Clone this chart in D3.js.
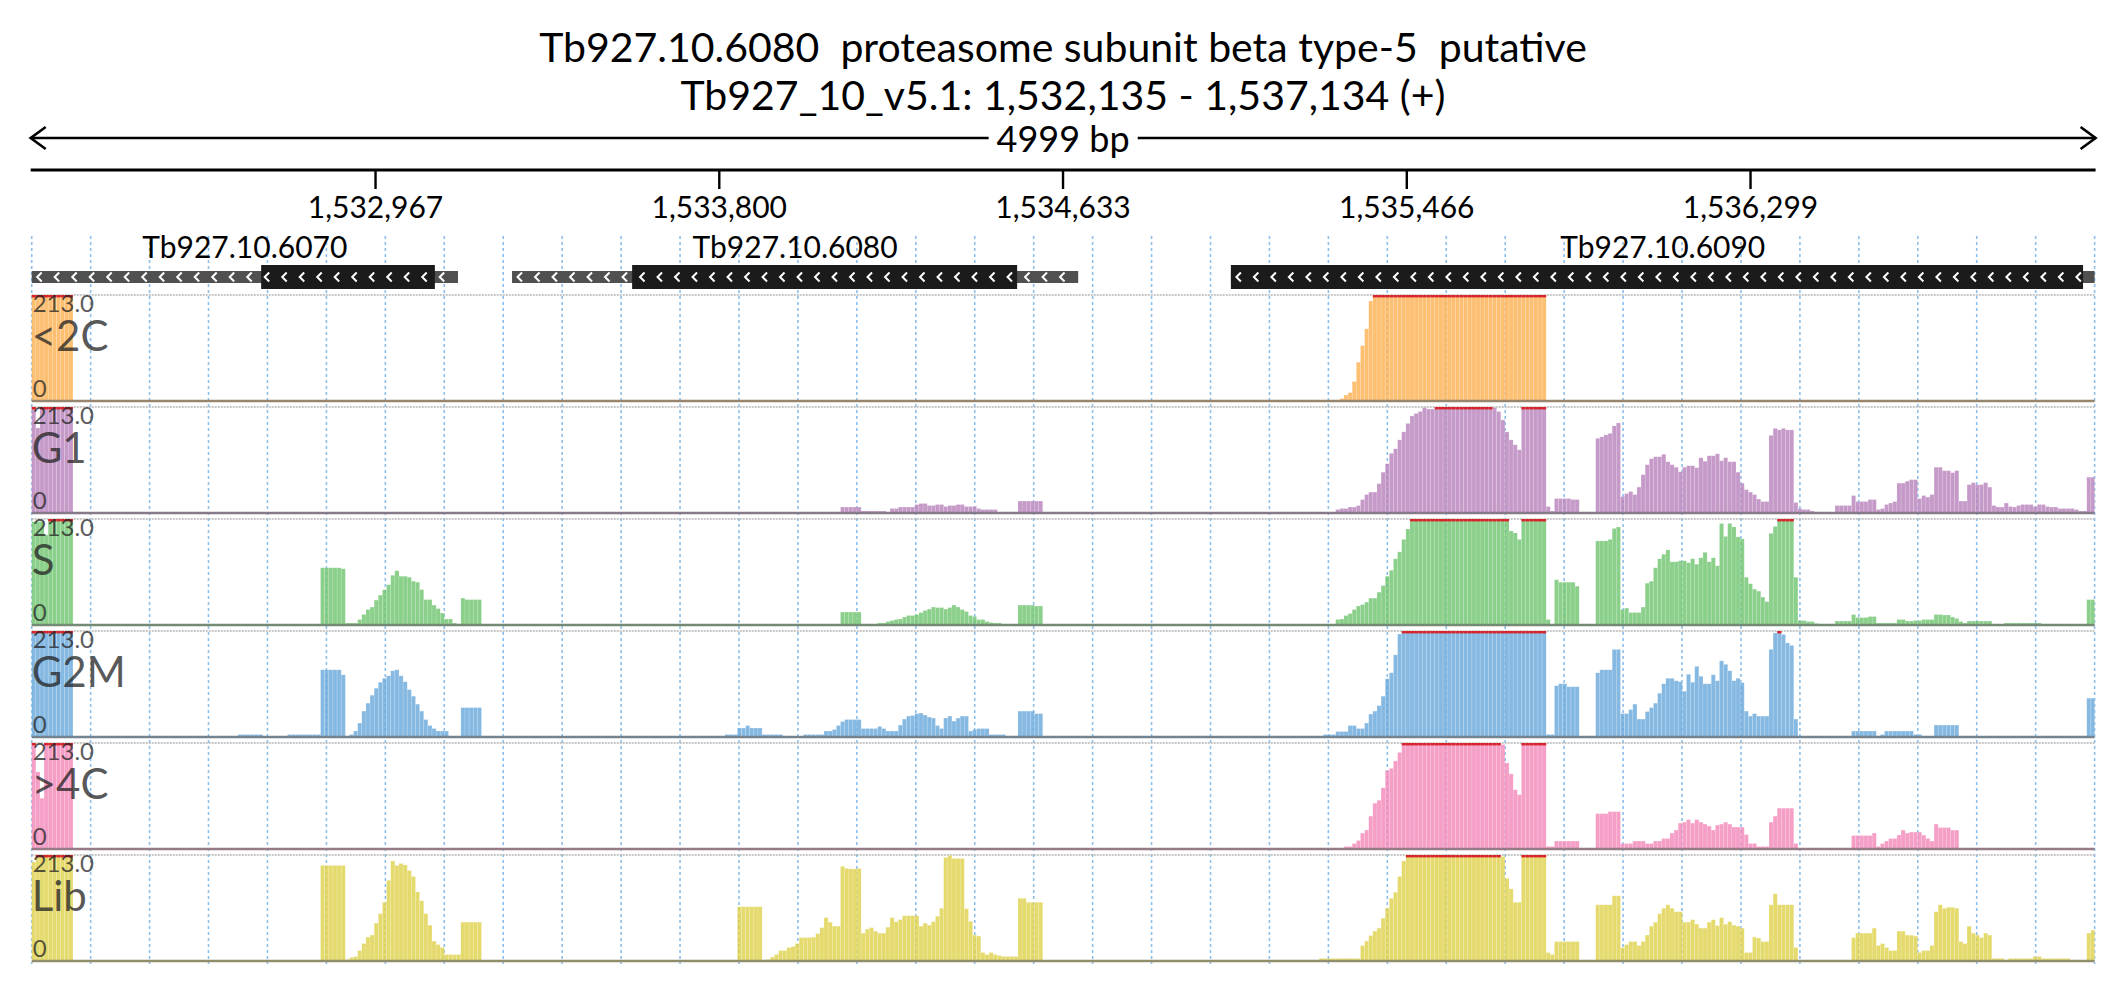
<!DOCTYPE html>
<html>
<head>
<meta charset="utf-8">
<script src="https://cdn.jsdelivr.net/npm/d3@7"></script>
<style>
  body { margin: 0; background: #fff; }
  text { font-family: Lato, "Open Sans", sans-serif; }
</style>
</head>
<body>
<div class="chart"></div>
<script>
// region shown
const START = 1532135, END = 1537134, BIN = 10, YMAX = 213;

const titleLines = ['Tb927.10.6080  proteasome subunit beta type-5  putative',
                    'Tb927_10_v5.1: 1,532,135 - 1,537,134 (+)'];
const tickValues = [1532967, 1533800, 1534633, 1535466, 1536299];

// genes: name, gene start/end, cds start/end
const geneNames = ['Tb927.10.6070', 'Tb927.10.6080', 'Tb927.10.6090'];
const geneStart = [1532100, 1533299, 1535041];
const geneEnd   = [1533168, 1534671, 1537200];
const cdsStart  = [1532691, 1533590, 1535041];
const cdsEnd    = [1533112, 1534523, 1537106];

const trackNames  = ['<2C', 'G1', 'S', 'G2M', '>4C', 'Lib'];
const trackColors = ['#fcaf4f', '#b781ba', '#6dc36d', '#68a8db', '#f286b8', '#dfd148'];

// coverage, [startBin, endBin, value], 10 bp bins from START
const lt2c = [[0,10,260],
  [317,318,5],[318,319,12],[319,320,17],[320,321,39],[321,322,78],[322,323,111],[323,324,145],[324,325,201],[325,367,260]];

const g1 = [[0,1,260],[1,2,171],[2,10,260],
  [196,201,12],[201,207,4],[208,210,9],[210,214,12],[214,215,17],[215,217,19],[217,219,15],[219,221,17],[221,222,13],[222,224,15],[224,226,17],[226,229,13],[229,230,9],[230,234,7],[239,245,24],
  [316,317,7],[317,319,9],[319,321,12],[321,322,15],[322,323,27],[323,324,37],[324,326,42],[326,327,59],[327,328,82],[328,329,99],[329,330,120],[330,331,129],[331,332,147],[332,333,163],[333,334,180],[334,335,195],[335,336,200],[336,337,204],[337,338,212],[338,340,209],[340,354,260],[354,355,212],[355,356,204],[356,357,187],[357,358,163],[358,359,147],[359,360,137],[360,361,127],[361,367,260],[367,368,13],[368,369,4],[369,373,29],[373,375,27],
  [379,380,150],[380,381,153],[381,382,157],[382,383,160],[383,384,175],[384,385,181],[385,386,33],[386,387,39],[387,388,43],[388,389,37],[389,390,52],[390,391,77],[391,392,97],[392,393,109],[393,395,113],[395,396,118],[396,397,103],[397,398,97],[398,399,92],[399,400,83],[400,401,92],[401,403,95],[403,404,91],[404,405,111],[405,406,104],[406,408,115],[408,409,119],[409,410,105],[410,411,111],[411,413,103],[413,414,82],[414,415,60],[415,416,47],[416,417,42],[417,418,37],[418,419,28],[419,421,23],[421,422,156],[422,423,170],[423,424,167],[424,425,170],[425,427,167],[427,428,21],[428,429,9],[429,431,7],[431,432,4],
  [437,441,15],[441,442,35],[442,445,23],[445,447,27],[447,448,7],[448,449,9],[449,450,17],[450,451,20],[451,452,23],[452,454,60],[454,455,64],[455,457,67],[457,458,29],[458,459,35],[459,460,32],[460,461,37],[461,463,92],[463,465,85],[465,466,81],[466,467,85],[467,469,24],[469,470,57],[470,471,61],[471,473,57],[473,474,61],[474,475,52],[475,476,15],[476,478,12],[478,479,20],[479,480,13],[480,481,12],[481,482,15],[482,485,17],[485,486,13],[486,488,17],[488,489,13],[489,491,12],[491,495,9],[495,496,7],[496,498,4],[498,500,72]];

const sPhase = [[0,3,208],[3,4,181],[4,10,260],
  [70,75,115],[75,76,113],[76,79,4],[79,80,11],[80,81,21],[81,82,31],[82,83,36],[83,84,50],[84,85,60],[85,86,71],[86,87,81],[87,88,100],[88,89,109],[89,91,98],[91,92,96],[92,93,88],[93,94,86],[94,95,71],[95,97,51],[97,98,40],[98,99,33],[99,100,24],[100,102,12],[102,103,4],[104,105,54],[105,109,51],
  [196,201,26],[205,207,4],[207,208,7],[208,209,9],[209,210,11],[210,211,12],[211,212,16],[212,214,19],[214,215,21],[215,216,25],[216,217,29],[217,218,32],[218,219,36],[219,221,35],[221,222,32],[222,223,35],[223,224,40],[224,225,36],[225,226,31],[226,227,27],[227,228,19],[228,229,17],[229,231,11],[231,232,7],[232,233,5],[233,235,4],[239,243,40],[243,245,38],
  [316,317,11],[317,318,12],[318,319,19],[319,320,23],[320,321,31],[321,322,38],[322,323,41],[323,324,46],[324,326,54],[326,327,66],[327,328,79],[328,329,98],[329,330,110],[330,331,133],[331,332,147],[332,333,172],[333,334,193],[334,358,260],[358,359,189],[359,360,185],[360,361,172],[361,367,260],[367,368,11],[368,369,2],[369,370,91],[370,374,86],[374,375,78],
  [379,382,169],[382,383,172],[383,384,194],[384,385,197],[385,386,31],[386,387,34],[387,390,25],[390,391,36],[391,392,84],[392,393,88],[393,394,115],[394,395,133],[395,396,142],[396,397,151],[397,399,127],[399,401,129],[401,402,125],[402,403,133],[403,404,122],[404,405,135],[405,406,146],[406,407,127],[407,408,135],[408,409,119],[409,410,204],[410,411,178],[411,412,204],[412,413,197],[413,414,177],[414,415,173],[415,416,96],[416,417,83],[417,418,72],[418,419,68],[419,420,56],[420,421,47],[421,422,184],[422,423,198],[423,427,260],[427,428,96],[428,430,9],[430,432,7],[432,433,3],
  [437,441,8],[441,442,21],[442,445,15],[445,447,17],[447,452,4],[452,454,11],[454,456,8],[456,458,9],[458,461,11],[461,463,21],[463,465,20],[465,466,16],[466,467,13],[467,468,7],[468,469,4],[469,475,8],[478,487,4],[498,500,51]];

const g2m = [[0,10,260],
  [50,56,5],[62,70,5],[70,75,135],[75,76,125],[77,78,5],[78,79,12],[79,80,28],[80,81,52],[81,82,68],[82,83,84],[83,84,98],[84,85,110],[85,86,118],[86,87,123],[87,88,133],[88,89,135],[89,90,123],[90,91,111],[91,92,95],[92,93,82],[93,94,66],[94,95,52],[95,96,35],[96,97,23],[97,98,17],[98,101,12],[104,109,59],
  [168,171,5],[171,173,18],[173,174,23],[174,177,18],[177,182,5],[187,192,5],[192,194,12],[194,195,15],[195,196,23],[196,197,31],[197,201,35],[201,205,17],[205,206,21],[206,207,17],[207,210,12],[210,211,24],[211,212,36],[212,213,42],[213,214,43],[214,215,47],[215,216,48],[216,217,44],[217,218,40],[218,219,38],[219,220,23],[220,221,17],[221,222,38],[222,223,42],[223,224,32],[224,225,38],[225,227,42],[227,228,12],[228,229,15],[229,232,17],[232,236,5],[239,243,52],[243,245,47],
  [313,316,5],[316,319,11],[319,321,23],[321,323,17],[323,324,28],[324,325,46],[325,326,52],[326,327,63],[327,328,82],[328,329,117],[329,330,129],[330,331,165],[331,332,207],[332,367,260],[367,369,5],[369,370,103],[370,372,107],[372,375,101],
  [379,380,129],[380,383,135],[383,385,176],[385,387,47],[387,388,55],[388,389,66],[389,391,36],[391,392,51],[392,393,59],[393,394,68],[394,395,88],[395,396,107],[396,398,118],[398,399,113],[399,400,111],[400,401,92],[401,402,126],[402,403,110],[403,404,142],[404,405,122],[405,407,107],[407,408,125],[408,409,113],[409,410,153],[410,411,146],[411,412,133],[412,413,113],[413,414,118],[414,415,109],[415,416,52],[416,417,42],[417,418,47],[418,421,42],[421,422,176],[422,423,209],[423,424,260],[424,425,206],[425,426,189],[426,427,184],[427,428,36],
  [441,447,12],[448,449,5],[449,456,12],[456,458,5],[461,467,24],[498,500,78]];

const gt4c = [[0,1,260],[1,2,155],[2,3,102],[3,10,260],
  [318,320,5],[320,321,11],[321,322,17],[322,323,32],[323,324,38],[324,325,66],[325,326,92],[326,327,98],[327,328,123],[328,329,158],[329,330,162],[330,331,177],[331,332,194],[332,356,260],[356,357,210],[357,358,173],[358,359,151],[359,360,119],[360,361,109],[361,367,260],[367,369,5],[369,375,16],
  [379,382,71],[382,385,75],[385,388,11],[388,391,16],[391,393,11],[393,395,16],[395,397,21],[397,398,32],[398,399,38],[399,400,52],[400,401,54],[401,402,59],[402,403,52],[403,404,59],[404,405,54],[405,406,50],[406,407,46],[407,408,38],[408,409,48],[409,410,50],[410,411,54],[411,412,50],[412,415,44],[415,416,29],[416,418,11],[418,421,5],[421,422,54],[422,423,66],[423,427,82],[427,428,11],
  [441,446,27],[446,447,32],[447,448,5],[448,449,11],[449,450,16],[450,452,21],[452,453,28],[453,454,38],[454,455,32],[455,458,34],[458,459,28],[459,460,21],[460,461,16],[461,462,50],[462,465,43],[465,467,38]];

const lib = [[0,1,199],[1,10,260],
  [70,76,192],[76,77,3],[77,78,7],[78,79,9],[79,80,21],[80,81,35],[81,82,48],[82,83,52],[83,84,76],[84,85,95],[85,86,118],[86,87,162],[87,88,201],[88,89,192],[89,90,196],[90,91,193],[91,92,182],[92,93,170],[93,94,139],[94,95,121],[95,96,95],[96,97,72],[97,98,40],[98,99,33],[99,100,27],[100,104,13],[104,109,78],
  [171,177,109],[178,179,3],[179,180,8],[180,181,13],[181,183,21],[183,184,27],[184,185,29],[185,186,35],[186,189,47],[189,190,48],[190,191,55],[191,192,67],[192,193,87],[193,194,78],[194,196,70],[196,197,190],[197,198,186],[198,200,185],[200,201,186],[201,202,56],[202,203,64],[203,204,67],[204,205,60],[205,207,56],[207,208,68],[208,209,87],[209,210,79],[210,211,83],[211,215,91],[215,216,70],[216,217,76],[217,218,72],[218,219,79],[219,220,90],[220,221,106],[221,222,208],[222,223,212],[223,226,206],[226,227,105],[227,228,80],[228,229,52],[229,230,50],[230,231,17],[231,232,13],[232,233,17],[233,234,13],[234,235,11],[235,239,9],[239,241,126],[241,245,118],
  [312,322,5],[322,323,31],[323,324,40],[324,325,51],[325,326,60],[326,327,66],[327,328,86],[328,329,106],[329,330,126],[330,331,138],[331,332,170],[332,333,201],[333,356,260],[356,357,210],[357,358,166],[358,359,145],[359,361,118],[361,367,260],[367,368,17],[368,369,13],[369,375,39],
  [379,383,113],[383,385,131],[385,386,27],[386,387,33],[387,389,39],[389,390,31],[390,391,39],[391,392,52],[392,393,70],[393,394,78],[394,395,95],[395,396,106],[396,397,113],[397,398,106],[398,400,99],[400,402,78],[402,403,83],[403,404,74],[404,406,66],[406,407,78],[407,408,83],[408,409,71],[409,410,87],[410,411,74],[411,412,79],[412,413,72],[413,414,70],[414,415,66],[415,417,17],[417,418,48],[418,419,46],[419,421,39],[421,422,113],[422,423,135],[423,427,113],[427,428,27],
  [441,442,47],[442,446,56],[446,447,66],[447,448,31],[448,449,35],[449,450,27],[450,452,21],[452,454,60],[454,456,52],[456,457,50],[457,458,17],[458,460,21],[460,461,31],[461,462,99],[462,463,113],[463,464,106],[464,466,108],[466,467,106],[467,468,39],[468,469,35],[469,470,70],[470,471,56],[471,472,52],[472,473,47],[473,474,56],[474,475,52],[475,478,5],[479,485,5],[485,487,9],[487,494,5],[498,499,56],[499,500,62]];

const trackData = [lt2c, g1, sPhase, g2m, gt4c, lib];

let width = 2126, height = 1000;
let left = 31.7, right = 2094.6;
let trackTop = 295, trackH = 106, trackPitch = 112;

let svg = d3.select('.chart').append('svg')
  .attr('width', width)
  .attr('height', height);

let x = d3.scaleLinear().domain([START, END]).range([left, right]);

// title
svg.selectAll('.title')
  .data(titleLines)
  .join('text')
  .attr('class', 'title')
  .attr('x', width / 2)
  .attr('y', (d, i) => 62 + i * 48)
  .attr('text-anchor', 'middle')
  .style('font-size', '41px')
  .style('white-space', 'pre')
  .text(d => d);

// span arrow
let arrowY = 138;
const ruler = svg.append('g').attr('stroke', '#000').attr('stroke-width', 2.6).attr('fill', 'none');
ruler.append('line').attr('x1', left - 1).attr('x2', right + 1).attr('y1', arrowY).attr('y2', arrowY);
ruler.append('path').attr('d', `M${left + 14},${arrowY - 11} L${left - 1},${arrowY} L${left + 14},${arrowY + 11}`);
ruler.append('path').attr('d', `M${right - 14},${arrowY - 11} L${right + 1},${arrowY} L${right - 14},${arrowY + 11}`);
let spanBg = svg.append('rect');
let spanText = svg.append('text')
  .attr('x', (left + right) / 2)
  .attr('y', 152)
  .attr('text-anchor', 'middle')
  .style('font-size', '36px')
  .text((END - START) + ' bp');
let bb = spanText.node().getBBox();
spanBg.attr('x', bb.x - 8).attr('y', arrowY - 4)
  .attr('width', bb.width + 16).attr('height', 8)
  .attr('fill', '#fff');

// position axis
let axisY = 170;
let axis = svg.append('g')
  .attr('transform', `translate(0,${axisY})`)
  .call(d3.axisBottom(x)
    .tickValues(tickValues)
    .tickSize(19)
    .tickSizeOuter(0)
    .tickPadding(8)
    .tickFormat(d3.format(',')));
axis.select('.domain').attr('stroke-width', 3.2).attr('d', `M${left - 1},0H${right + 1}`);
axis.selectAll('.tick line').attr('stroke-width', 2.4);
axis.selectAll('.tick text').style('font-size', '30px').attr('font-family', 'Lato').attr('fill', '#000');

// grid
let gridX = d3.range(36).map(i => left + i * (right - left) / 35);
svg.append('g')
  .selectAll('line')
  .data(gridX)
  .join('line')
  .attr('x1', d => d).attr('x2', d => d)
  .attr('y1', 236).attr('y2', trackTop + 5 * trackPitch + trackH + 3)
  .attr('stroke', '#8ebfea')
  .attr('stroke-width', 1.6)
  .attr('stroke-dasharray', '3,3');

// genes
let geneY = 277;
let genes = svg.append('g');
geneNames.forEach((name, i) => {
  let x0 = Math.max(x(geneStart[i]), left), x1 = Math.min(x(geneEnd[i]), right);
  genes.append('rect')
    .attr('x', x0).attr('y', geneY - 6)
    .attr('width', x1 - x0).attr('height', 12)
    .attr('fill', '#505050');
  let c0 = Math.max(x(cdsStart[i]), left), c1 = Math.min(x(cdsEnd[i]), right);
  genes.append('rect')
    .attr('x', c0).attr('y', geneY - 12)
    .attr('width', c1 - c0).attr('height', 24)
    .attr('fill', '#1b1b1b');
  let marks = d3.range(x0 + 7, x1 - 4, 17.5);
  genes.append('g')
    .selectAll('path')
    .data(marks)
    .join('path')
    .attr('d', d => `M${d + 3},${geneY - 4.5} L${d - 1.5},${geneY} L${d + 3},${geneY + 4.5}`)
    .attr('fill', 'none')
    .attr('stroke', '#fff')
    .attr('stroke-width', 2);
  genes.append('text')
    .attr('x', (x0 + x1) / 2)
    .attr('y', 258)
    .attr('text-anchor', 'middle')
    .style('font-size', '30px')
    .text(name);
});

// coverage tracks
trackData.forEach((segs, t) => {
  let top = trackTop + t * trackPitch, base = top + trackH;
  let y = d3.scaleLinear().domain([0, YMAX]).range([base, top]);
  let col = trackColors[t];
  let g = svg.append('g');

  g.append('line')
    .attr('x1', left).attr('x2', right)
    .attr('y1', top).attr('y2', top)
    .attr('stroke', '#b5b5b5')
    .attr('stroke-width', 1.4)
    .attr('stroke-dasharray', '2,1');

  let bins = [];
  segs.forEach(s => {
    for (let b = s[0]; b < s[1]; b++) bins.push({ b: b, v: s[2] });
  });

  g.selectAll('.bar')
    .data(bins)
    .join('rect')
    .attr('class', 'bar')
    .attr('x', d => x(START + d.b * BIN))
    .attr('width', d => Math.min(x(START + (d.b + 1) * BIN), right) - x(START + d.b * BIN))
    .attr('y', d => y(Math.min(d.v, YMAX)))
    .attr('height', d => base - y(Math.min(d.v, YMAX)))
    .attr('fill', col)
    .attr('fill-opacity', 0.8)
    .attr('stroke', '#fff')
    .attr('stroke-opacity', 0.25)
    .attr('stroke-width', 0.6);

  g.selectAll('.clip')
    .data(bins.filter(d => d.v > YMAX))
    .join('rect')
    .attr('class', 'clip')
    .attr('x', d => x(START + d.b * BIN))
    .attr('width', d => Math.min(x(START + (d.b + 1) * BIN), right) - x(START + d.b * BIN))
    .attr('y', top)
    .attr('height', 2.4)
    .attr('fill', '#d9232b');

  g.append('line')
    .attr('x1', left).attr('x2', right)
    .attr('y1', base).attr('y2', base)
    .attr('stroke', d3.interpolateRgb(col, '#777')(0.75))
    .attr('stroke-width', 2.4);

  let lab = g.append('g').attr('fill', '#222').attr('fill-opacity', 0.75);
  lab.append('text').attr('x', left + 1).attr('y', top + 17).style('font-size', '24px').text(YMAX.toFixed(1));
  lab.append('text').attr('x', left + 1).attr('y', base - 4).style('font-size', '24px').text('0');
  lab.append('text').attr('x', left).attr('y', top + 56).style('font-size', '42px').text(trackNames[t]);
});
</script>
</body>
</html>
